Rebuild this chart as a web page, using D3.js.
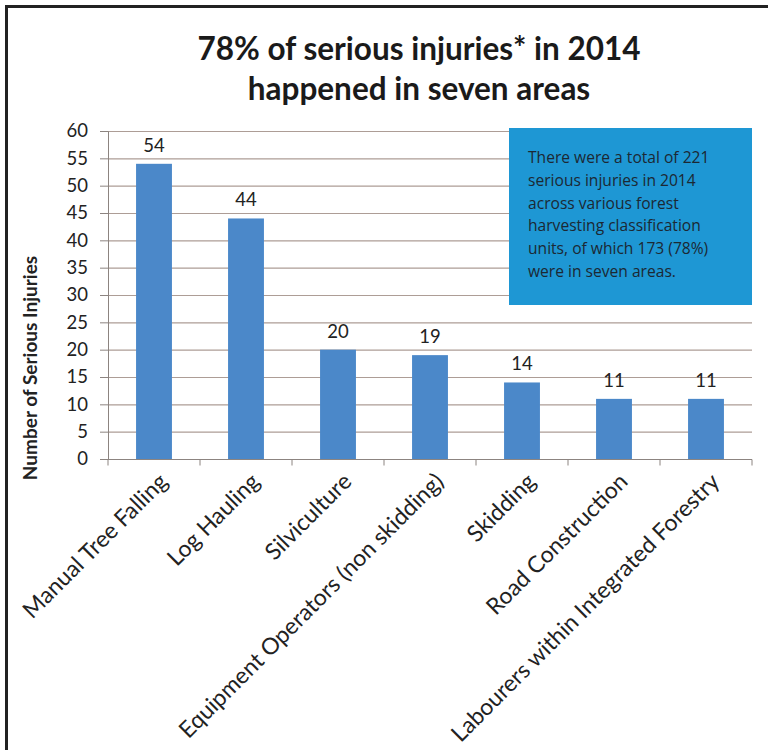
<!DOCTYPE html>
<html>
<head>
<meta charset="utf-8">
<script src="https://cdn.jsdelivr.net/npm/d3@7"></script>
<style>
  body { margin: 0; background: #fff; }
  svg { display: block; }
</style>
</head>
<body>
<svg id="chart" width="768" height="750"></svg>
<script>
const categories = [
  "Manual Tree Falling",
  "Log Hauling",
  "Silviculture",
  "Equipment Operators (non skidding)",
  "Skidding",
  "Road Construction",
  "Labourers within Integrated Forestry"
];
const injuries = [54, 44, 20, 19, 14, 11, 11];
const yTicks = [0, 5, 10, 15, 20, 25, 30, 35, 40, 45, 50, 55, 60];
const titleLines = ["78% of serious injuries* in 2014", "happened in seven areas"];
const noteLines = [
  "There were a total of 221",
  "serious injuries in 2014",
  "across various forest",
  "harvesting classification",
  "units, of which 173 (78%)",
  "were in seven areas."
];

const W = 768, H = 750;
const margin = { top: 131, right: 16, bottom: 291, left: 108 };
const font = "Lato, 'Open Sans', sans-serif";

const svg = d3.select("#chart");

// frame
svg.append("path")
  .attr("d", `M6.5,${H} V6.5 H${W}`)
  .attr("fill", "none")
  .attr("stroke", "#222")
  .attr("stroke-width", 3);

const x = d3.scaleBand()
  .domain(categories)
  .range([margin.left, W - margin.right])
  .paddingInner(0.61)
  .paddingOuter(0.305);

const y = d3.scaleLinear()
  .domain([0, 60])
  .range([H - margin.bottom, margin.top]);

// gridlines
svg.append("g")
  .selectAll("line")
  .data(yTicks.filter(d => d > 0))
  .join("line")
    .attr("x1", margin.left)
    .attr("x2", W - margin.right)
    .attr("y1", d => y(d) + 0.5)
    .attr("y2", d => y(d) + 0.5)
    .attr("stroke", "#ad9d96")
    .attr("stroke-width", 1.2);

// bars
svg.append("g")
  .selectAll("rect")
  .data(injuries)
  .join("rect")
    .attr("x", (_, i) => x(categories[i]))
    .attr("y", d => y(d))
    .attr("width", x.bandwidth())
    .attr("height", d => y(0) - y(d))
    .attr("fill", "#4b88c9");

// value labels
svg.append("g")
  .selectAll("text")
  .data(injuries)
  .join("text")
    .attr("x", (_, i) => x(categories[i]) + x.bandwidth() / 2)
    .attr("y", d => y(d) - 12)
    .attr("text-anchor", "middle")
    .attr("font-family", font)
    .attr("font-size", 18.5)
    .attr("fill", "#222")
    .text(d => d);

// y axis
const yAxis = svg.append("g")
  .attr("transform", `translate(${margin.left},0)`)
  .call(d3.axisLeft(y).tickValues(yTicks).tickSize(8).tickPadding(12));
yAxis.selectAll("text")
  .attr("font-family", font)
  .attr("font-size", 18.5)
  .attr("fill", "#222");
yAxis.selectAll("line, path").attr("stroke", "#8c8480");

// x axis with ticks at category boundaries
const xAxisG = svg.append("g")
  .attr("transform", `translate(0,${y(0) + 0.5})`);
xAxisG.append("line")
  .attr("x1", margin.left)
  .attr("x2", W - margin.right)
  .attr("stroke", "#8c8480");
const step = x.step();
xAxisG.selectAll(".tk")
  .data(d3.range(categories.length + 1))
  .join("line")
    .attr("class", "tk")
    .attr("x1", i => margin.left + i * step)
    .attr("x2", i => margin.left + i * step)
    .attr("y1", 0)
    .attr("y2", 6)
    .attr("stroke", "#8c8480");

// x labels rotated
svg.append("g")
  .selectAll("text")
  .data(categories)
  .join("text")
    .attr("transform", d => `translate(${x(d) + x.bandwidth() / 2 + 15},${y(0) + 24}) rotate(-45)`)
    .attr("text-anchor", "end")
    .attr("font-family", font)
    .attr("font-size", 23)
    .attr("fill", "#222")
    .text(d => d);

// y axis title
svg.append("text")
  .attr("transform", `translate(37,368) rotate(-90)`)
  .attr("text-anchor", "middle")
  .attr("font-family", font)
  .attr("font-weight", "bold")
  .attr("font-size", 19)
  .attr("fill", "#222")
  .text("Number of Serious Injuries");

// title
svg.append("g")
  .selectAll("text")
  .data(titleLines)
  .join("text")
    .attr("x", 419)
    .attr("y", (_, i) => 60 + i * 40)
    .attr("text-anchor", "middle")
    .attr("font-family", font)
    .attr("font-weight", "bold")
    .attr("font-size", 31.5)
    .attr("fill", "#1a1a1a")
    .text(d => d);

// note box
svg.append("rect")
  .attr("x", 509)
  .attr("y", 128)
  .attr("width", 243)
  .attr("height", 177)
  .attr("fill", "#1e97d4");
svg.append("g")
  .selectAll("text")
  .data(noteLines)
  .join("text")
    .attr("x", 528)
    .attr("y", (_, i) => 163 + i * 22.8)
    .attr("font-family", "'Open Sans', sans-serif")
    .attr("font-size", 15.6)
    .attr("fill", "#1c2833")
    .text(d => d);
</script>
</body>
</html>
